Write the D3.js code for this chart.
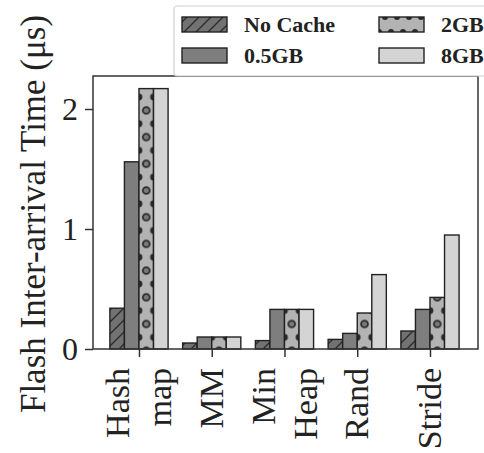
<!DOCTYPE html>
<html>
<head>
<meta charset="utf-8">
<script src="https://cdn.jsdelivr.net/npm/d3@7"></script>
<style>
  body { margin: 0; background: #fff; }
  svg { display: block; font-family: "Liberation Serif", "DejaVu Serif", serif; }
</style>
</head>
<body>
<svg id="chart" width="484" height="453"></svg>
<script>
// ---- data ----
const categories = [["Hash", "map"], ["MM"], ["Min", "Heap"], ["Rand"], ["Stride"]];
const seriesNames = ["No Cache", "0.5GB", "2GB", "8GB"];
const noCache = [0.34, 0.05, 0.07, 0.08, 0.15];
const gb05    = [1.56, 0.10, 0.33, 0.13, 0.33];
const gb2     = [2.17, 0.10, 0.33, 0.30, 0.43];
const gb8     = [2.17, 0.10, 0.33, 0.62, 0.95];
const yTicks = [0, 1, 2];
const seriesValues = [noCache, gb05, gb2, gb8];

// ---- layout ----
const svg = d3.select("#chart");
const L = 93, R = 478, T = 76, B = 349;
const x = d3.scaleLinear().domain([-0.632, 4.66]).range([L, R]);
const y = d3.scaleLinear().domain([0, 2.275]).range([B, T]);
const bw = x(0.2) - x(0);
const fills = ["#727272", "#7e7e7e", "#b3b3b3", "#d4d4d4"];
const edge = "#222";

// ---- patterns ----
const defs = svg.append("defs");
const hatch = defs.append("pattern").attr("id", "hatch")
  .attr("patternUnits", "userSpaceOnUse").attr("width", 12).attr("height", 12);
hatch.append("rect").attr("width", 12).attr("height", 12).attr("fill", fills[0]);
hatch.append("path").attr("d", "M0,12 L12,0 M-3,3 L3,-3 M9,15 L15,9")
  .attr("stroke", "#2a2a2a").attr("stroke-width", 1.3);

const ph = 26.7;
const dots = defs.append("pattern").attr("id", "dots")
  .attr("patternUnits", "userSpaceOnUse").attr("width", bw).attr("height", ph)
  .attr("patternTransform", `translate(${x(0)},${B - 25 - ph / 2})`);
dots.append("rect").attr("width", bw).attr("height", ph).attr("fill", fills[2]);
dots.append("circle").attr("cx", bw / 2).attr("cy", ph / 2).attr("r", 3.4)
  .attr("fill", "#7a7a7a").attr("stroke", "#2a2a2a").attr("stroke-width", 1.8);
[[0, 0], [bw, 0], [0, ph], [bw, ph]].forEach(([cx, cy]) => {
  dots.append("circle").attr("cx", cx).attr("cy", cy).attr("r", 3.4).attr("fill", "#2a2a2a");
});
// legend version of dots
const dotsL = defs.append("pattern").attr("id", "dotsL")
  .attr("patternUnits", "userSpaceOnUse").attr("width", 12).attr("height", 15)
  .attr("patternTransform", "translate(379,17)");
dotsL.append("rect").attr("width", 12).attr("height", 15).attr("fill", fills[2]);
dotsL.append("circle").attr("cx", 6).attr("cy", 0).attr("r", 3).attr("fill", "#2a2a2a");
dotsL.append("circle").attr("cx", 0).attr("cy", 15).attr("r", 3).attr("fill", "#2a2a2a");
dotsL.append("circle").attr("cx", 12).attr("cy", 15).attr("r", 3).attr("fill", "#2a2a2a");

const barFill = ["url(#hatch)", fills[1], "url(#dots)", fills[3]];
const legFill = ["url(#hatch)", fills[1], "url(#dotsL)", fills[3]];

// ---- bars ----
seriesValues.forEach((vals, s) => {
  svg.append("g").selectAll("rect").data(vals).join("rect")
    .attr("x", (d, i) => x(i) + (s - 2) * bw)
    .attr("y", d => y(d))
    .attr("width", bw)
    .attr("height", d => y(0) - y(d))
    .attr("fill", barFill[s])
    .attr("stroke", edge).attr("stroke-width", 1.4);
});

// ---- frame ----
svg.append("rect").attr("x", L).attr("y", T).attr("width", R - L).attr("height", B - T)
  .attr("fill", "none").attr("stroke", "#333").attr("stroke-width", 1.5);

// ---- axes ----
const yAxis = svg.append("g").attr("transform", `translate(${L},0)`)
  .call(d3.axisLeft(y).tickValues(yTicks).tickFormat(d3.format("d")).tickSize(8).tickPadding(7));
yAxis.select(".domain").remove();
yAxis.selectAll("line").attr("stroke", "#333").attr("stroke-width", 1.5);
yAxis.selectAll("text").attr("font-size", 32).attr("fill", "#222")
  .attr("font-family", "Liberation Serif, serif");

const xAxis = svg.append("g").attr("transform", `translate(0,${B})`)
  .call(d3.axisBottom(x).tickValues(d3.range(categories.length)).tickSize(8).tickFormat(""));
xAxis.select(".domain").remove();
xAxis.selectAll("line").attr("stroke", "#333").attr("stroke-width", 1.5);

const lineH = 42;
categories.forEach((lines, i) => {
  lines.forEach((t, j) => {
    const off = (j - (lines.length - 1) / 2) * lineH;
    svg.append("text")
      .attr("transform", `translate(${x(i) + off},368) rotate(-90)`)
      .attr("text-anchor", "end").attr("dy", "0.33em")
      .attr("font-size", 34).attr("fill", "#222")
      .text(t);
  });
});

// ---- y label ----
svg.append("text")
  .attr("transform", `translate(45,214) rotate(-90)`)
  .attr("text-anchor", "middle").attr("font-size", 35).attr("fill", "#222")
  .text("Flash Inter-arrival Time (μs)");

// ---- legend ----
const leg = svg.append("g");
leg.append("rect").attr("x", 174).attr("y", 6).attr("width", 330).attr("height", 70)
  .attr("rx", 3).attr("fill", "#fff").attr("fill-opacity", 0.9)
  .attr("stroke", "#cfcfcf").attr("stroke-width", 1.2);
const legPos = [[182, 17], [182, 48], [379, 17], [379, 48]];
seriesNames.forEach((name, s) => {
  const [lx, ly] = legPos[s];
  leg.append("rect").attr("x", lx).attr("y", ly).attr("width", 45).attr("height", 15)
    .attr("fill", legFill[s]).attr("stroke", edge).attr("stroke-width", 1.4);
  leg.append("text").attr("x", lx + 62).attr("y", ly + 7.5).attr("dy", "0.35em")
    .attr("font-size", 22).attr("font-weight", "bold").attr("fill", "#222").text(name);
});
</script>
</body>
</html>
